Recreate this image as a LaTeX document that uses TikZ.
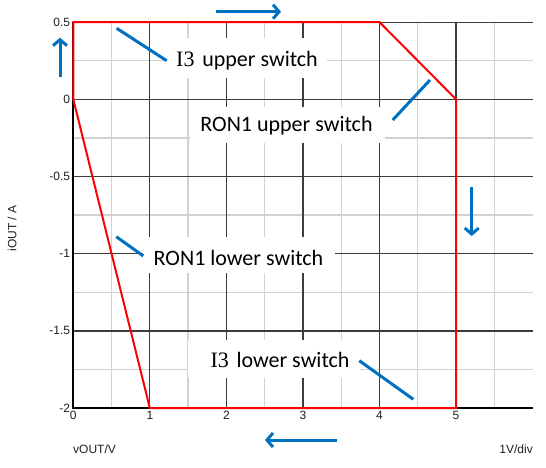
\documentclass[tikz,border=0pt]{standalone}
\usepackage{fontspec}
\setmainfont{Liberation Sans}
\newfontfamily\calib{Carlito}
\newfontfamily\serifI{Liberation Serif}
\usetikzlibrary{arrows.meta}
\definecolor{myblue}{HTML}{0070C0}
\definecolor{majgrid}{HTML}{3C3C3C}
\definecolor{mingrid}{HTML}{D2D2D2}
\definecolor{tickcol}{HTML}{202020}
\tikzset{
  minorline/.style={draw=mingrid, line width=1.3pt},
  majorline/.style={draw=majgrid, line width=1.2pt},
  axisline/.style={draw=black, line width=2pt},
  curve/.style={draw=red, line width=2pt, line join=miter},
  tick/.style={font=\fontsize{12}{14}\selectfont, text=tickcol, inner sep=0pt},
  lbl/.style={font=\calib\fontsize{22}{26}\selectfont, text=black, inner sep=0pt},
  whitebox/.style={fill=white, draw=none},
  leader/.style={draw=myblue, line width=3pt},
  dirarrow/.style={draw=myblue, line width=3pt, -{Straight Barb[length=6pt,width=14pt]}},
}
\begin{document}
\begin{tikzpicture}[x=1pt,y=-1pt]
\useasboundingbox (0,0) rectangle (546,467);
\fill[white] (0,0) rectangle (546,467);
\begin{scope}[shift={(73.3,99.3)}, x=76.55pt, y=154.4pt]
  % minor grid
  \foreach \v in {0.5,1.5,2.5,3.5,4.5,5.5} \draw[minorline] (\v,-2) -- (\v,0.5);
  \foreach \i in {-1.75,-1.25,-0.75,-0.25,0.25} \draw[minorline] (0,\i) -- (6,\i);
  % major grid
  \foreach \v in {1,2,3,4,5} \draw[majorline] (\v,-2) -- (\v,0.5);
  \foreach \i in {-1.5,-1,-0.5,0,0.5} \draw[majorline] (0,\i) -- (6,\i);
  \draw[axisline] (0,0.5) -- (0,-2) -- (6,-2);
  % tick labels
  \foreach \i/\t in {0.5/0.5,0/0,-0.5/-0.5,-1/-1,-1.5/-1.5,-2/-2}
    \node[tick, anchor=east] (y\t) at ([xshift=-3pt]0,\i) {\t};
  \foreach \v in {0,1,2,3,4,5}
    \node[tick, anchor=north] (x\v) at ([yshift=-3pt]\v,-2) {\v};
  % operating curve
  \coordinate (p0) at (0,0);
  \coordinate (p1) at (0,0.5);
  \coordinate (p2) at (4,0.5);
  \coordinate (p3) at (5,0);
  \coordinate (p4) at (5,-2);
  \coordinate (p5) at (1,-2);
  \draw[curve] (p0) -- (p1) -- (p2) -- (p3) -- (p4) -- (p5) -- cycle;
\end{scope}
% label boxes
\fill[whitebox] (167,38) rectangle (327,78);
\fill[whitebox] (190,107) rectangle (385,143);
\fill[whitebox] (143,236.7) rectangle (335,273.3);
\fill[whitebox] (188,340) rectangle (360,378);
\node[lbl] (i3u) at (247,61) {{\serifI I3}\hspace{0.35em}upper switch};
\node[lbl] (ronu) at (286.5,126) {RON1 upper switch};
\node[lbl] (ronl) at (238.5,257.5) {RON1 lower switch};
\node[lbl] (i3l) at (280,360) {{\serifI I3}\hspace{0.35em}lower switch};
% leaders
\coordinate (a1) at (116.7,28.3);  \coordinate (b1) at (166.7,60.7);
\coordinate (a2) at (430,80);      \coordinate (b2) at (392.7,120);
\coordinate (a3) at (116.3,236.7); \coordinate (b3) at (143.3,256);
\coordinate (a4) at (413.3,399.3); \coordinate (b4) at (359.3,360.7);
\draw[leader] (a1) -- (b1);
\draw[leader] (a2) -- (b2);
\draw[leader] (a3) -- (b3);
\draw[leader] (a4) -- (b4);
% direction arrows
\coordinate (u1) at (60,77);    \coordinate (u2) at (60,37.7);
\coordinate (r1) at (216,11.7); \coordinate (r2) at (281,11.7);
\coordinate (d1) at (471.7,187.3); \coordinate (d2) at (471.7,236);
\coordinate (l1) at (337.3,440); \coordinate (l2) at (265,440);
\draw[dirarrow] (u1) -- (u2);
\draw[dirarrow] (r1) -- (r2);
\draw[dirarrow] (d1) -- (d2);
\draw[dirarrow] (l1) -- (l2);
% axis titles
\node[tick, anchor=west] (xt) at (73,449) {vOUT/V};
\node[tick, anchor=east] (div) at (533,449) {1V/div};
\node[tick, rotate=90] (yt) at (12,228.5) {iOUT / A};
\end{tikzpicture}
\end{document}
